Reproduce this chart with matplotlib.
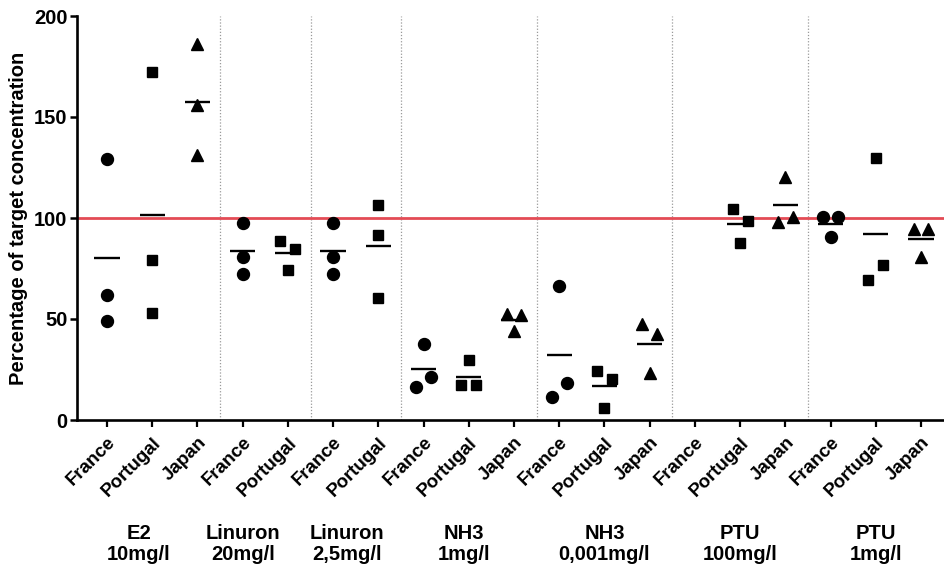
"""Scatter of measured vs target concentration per lab, GraphPad style."""

import matplotlib.pyplot as plt
import matplotlib.transforms as mtransforms
import numpy as np

# one entry per x slot, in plotting order
COUNTRIES = ["France", "Portugal", "Japan",
             "France", "Portugal",
             "France", "Portugal",
             "France", "Portugal", "Japan",
             "France", "Portugal", "Japan",
             "France", "Portugal", "Japan",
             "France", "Portugal", "Japan"]

VALUES = [
    [129, 62, 49],          # E2 10mg/l
    [172.5, 79, 53],
    [186, 156, 131],
    [97.5, 80.5, 72.5],     # Linuron 20mg/l
    [88.5, 84.5, 74.5],
    [97.5, 80.5, 72.5],     # Linuron 2,5mg/l
    [106.5, 91.5, 60.5],
    [16.5, 21.5, 37.5],     # NH3 1mg/l
    [17.5, 17.5, 29.5],
    [44, 52.5, 52],
    [11.5, 18.5, 66.5],     # NH3 0,001mg/l
    [24.5, 20.5, 6],
    [47.5, 42.5, 23.5],
    [],                     # PTU 100mg/l
    [104.5, 98.5, 87.5],
    [98, 100.5, 120.5],
    [100.5, 100.5, 90.5],   # PTU 1mg/l
    [69.5, 76.5, 129.5],
    [94.5, 94.5, 80.5],
]

GROUPS = ["E2\n10mg/l", "Linuron\n20mg/l", "Linuron\n2,5mg/l", "NH3\n1mg/l",
          "NH3\n0,001mg/l", "PTU\n100mg/l", "PTU\n1mg/l"]
GROUP_X = [0.7, 3.0, 5.3, 7.9, 11.0, 14.0, 17.0]
SEPARATORS = [2.5, 4.5, 6.5, 9.5, 12.5, 15.5]
TARGET = 100

MARKERS = {"France": ("o", 8.6), "Portugal": ("s", 7.6), "Japan": ("^", 8.0)}


def spread(vals, thr=7.5, step=0.165):
    """Horizontal offsets for points that would overlap (simple beeswarm)."""
    vals = np.asarray(vals, dtype=float)
    offs = np.zeros(len(vals))
    if len(vals) == 0:
        return offs
    order = np.argsort(vals, kind="stable")
    clusters, cur = [], [order[0]]
    for a, b in zip(order[:-1], order[1:]):
        if vals[b] - vals[a] < thr:
            cur.append(b)
        else:
            clusters.append(cur)
            cur = [b]
    clusters.append(cur)
    for c in clusters:
        c = sorted(c)
        n = len(c)
        for k, idx in enumerate(c):
            offs[idx] = (k - (n - 1) / 2) * step * (2 if n == 2 else 1)
    return offs


plt.rcParams.update({
    "font.family": "Liberation Sans",
    "font.weight": "bold",
    "axes.linewidth": 1.9,
})

fig = plt.figure(figsize=(9.45, 5.69), dpi=100)
ax = fig.add_axes([77 / 945, 1 - 420 / 569, 868 / 945, 404 / 569])

for sx in SEPARATORS:
    ax.axvline(sx, color="#9a9a9a", linestyle=(0, (1, 1.5)), linewidth=0.9,
               zorder=1)

ax.axhline(TARGET, color="#e34b55", linewidth=2.0, zorder=2)

for i, (country, vals) in enumerate(zip(COUNTRIES, VALUES)):
    if not vals:
        continue
    marker, ms = MARKERS[country]
    xs = i + spread(vals)
    ax.plot(xs, vals, linestyle="none", marker=marker, markersize=ms,
            color="black", zorder=4)
    m = np.mean(vals)
    ax.plot([i - 0.28, i + 0.28], [m, m], color="black", linewidth=1.7,
            solid_capstyle="butt", zorder=3)

ax.set_xlim(-0.664, 18.53)
ax.set_ylim(0, 200)
ax.set_yticks([0, 50, 100, 150, 200])
ax.set_xticks(range(len(COUNTRIES)))
ax.set_xticklabels(COUNTRIES, rotation=45, ha="right", va="top",
                   rotation_mode="anchor", fontsize=13.5, fontweight="bold")
ax.tick_params(axis="y", labelsize=14.5, length=5, width=1.8, pad=2)
ax.tick_params(axis="x", length=5, width=1.6, pad=5)
for lab in ax.get_yticklabels():
    lab.set_fontweight("bold")

ax.set_ylabel("Percentage of target concentration", fontsize=14.5,
              fontweight="bold")
ax.yaxis.set_label_coords(-0.057, 0.5)
ax.spines[["top", "right"]].set_visible(False)

trans = mtransforms.blended_transform_factory(ax.transData, fig.transFigure)
for gx, g in zip(GROUP_X, GROUPS):
    ax.text(gx, 1 - 544 / 569, g, transform=trans, ha="center", va="center",
            fontsize=14.5, fontweight="bold", linespacing=1.12)

fig.savefig("out.png", dpi=100, facecolor="white")
